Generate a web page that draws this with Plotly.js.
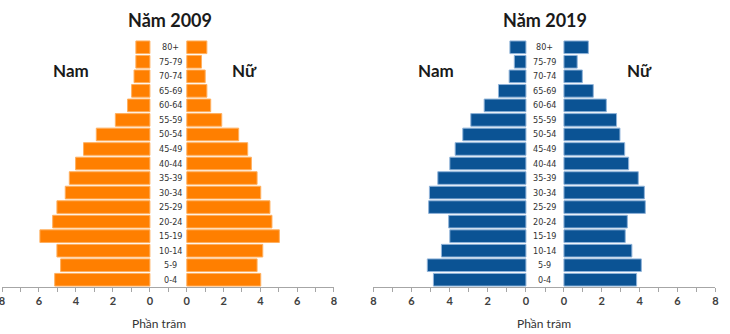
<!DOCTYPE html>
<html>
<head>
<meta charset="utf-8">
<script src="https://cdn.plot.ly/plotly-3.0.1.min.js"></script>
<style>html,body{margin:0;padding:0;background:#fff}#chart{width:730px;height:334px}</style>
</head>
<body>
<div id="chart"></div>
<script>
const ageGroups = ["0-4","5-9","10-14","15-19","20-24","25-29","30-34","35-39","40-44","45-49","50-54","55-59","60-64","65-69","70-74","75-79","80+"];
const male2009   = [5.15,4.83,5.03,5.95,5.26,5.03,4.58,4.36,4.02,3.59,2.90,1.87,1.21,0.99,0.86,0.76,0.76];
const female2009 = [4.02,3.82,4.13,5.03,4.63,4.52,4.02,3.82,3.51,3.31,2.82,1.90,1.30,1.09,1.00,0.80,1.09];
const male2019   = [4.85,5.17,4.43,3.99,4.05,5.10,5.06,4.62,3.99,3.71,3.31,2.89,2.19,1.44,0.88,0.61,0.84];
const female2019 = [3.84,4.09,3.59,3.24,3.35,4.30,4.25,3.93,3.42,3.21,2.96,2.78,2.24,1.55,0.97,0.70,1.29];
const panelTitles = ["Năm 2009","Năm 2019"];
const sexLabels = ["Nam","Nữ"];
const axisLabel = "Phần trăm";

const orange = "#FF7F00", blue = "#0B5394";
function bar(x, color, lineColor, xa, ya){
  return {type:"bar", orientation:"h", x:x, y:ageGroups, xaxis:xa, yaxis:ya,
    marker:{color:color, line:{color:lineColor, width:1}}, hoverinfo:"x+y", showlegend:false};
}
const data = [
  bar(male2009, orange, "#FFB060", "x", "y"),
  bar(female2009, orange, "#FFB060", "x2", "y"),
  bar(male2019, blue, "#8FB3D9", "x3", "y2"),
  bar(female2019, blue, "#8FB3D9", "x4", "y2")
];
const axColor = "#a6a6a6";
function xax(dom, range, anchor){
  return {domain:dom, range:range, anchor:anchor, showgrid:false, zeroline:false,
    showline:true, linecolor:axColor, linewidth:1, ticks:"outside", ticklen:4, tickcolor:axColor,
    tickvals:[0,2,4,6,8], ticktext:["0","2","4","6","8"], ticklabeloverflow:"allow",
    minor:{ticks:"outside", dtick:1, tick0:0, ticklen:4, tickcolor:axColor, showgrid:false},
    tickfont:{family:"Lato, 'Open Sans', sans-serif", size:11, color:"#404040", weight:"bold"},
    fixedrange:true};
}
function yax(){
  return {domain:[0.1407,0.8802], type:"category", categoryorder:"array", categoryarray:ageGroups,
    range:[-0.5,16.5], showticklabels:false, showgrid:false, zeroline:false, showline:false, ticks:"", fixedrange:true};
}
const layout = {
  width:730, height:334, margin:{l:0,r:0,t:0,b:0}, paper_bgcolor:"#fff", plot_bgcolor:"rgba(0,0,0,0)",
  bargap:0.13, showlegend:false,
  xaxis: xax([0.00274,0.2307],[8,-1],"y"),
  xaxis2: xax([0.2307,0.4575],[-1,8],"y"),
  xaxis3: xax([0.5114,0.7466],[8,-1],"y2"),
  xaxis4: xax([0.7466,0.9799],[-1,8],"y2"),
  yaxis: yax(),
  yaxis2: yax(),
  annotations: []
};
const titleFont = {family:"Lato, 'Open Sans', sans-serif", size:18, color:"#1a1a1a", weight:"bold"};
const sexFont = {family:"Lato, 'Open Sans', sans-serif", size:17, color:"#1a1a1a", weight:"bold"};
const ageFont = {family:"'Liberation Sans Narrow', 'Arial Narrow', 'DejaVu Sans Condensed', sans-serif", size:9, color:"#333"};
const centers = [170/730, 544.5/730];
const sexX = [[70.5/730, 244/730],[435.5/730, 639/730]];
const pctX = [158.5/730, 544/730];
const yrefs = ["y","y2"];
for (let p=0;p<2;p++){
  layout.annotations.push({text:panelTitles[p], xref:"paper", yref:"paper", x:centers[p], y:1-20/334,
    xanchor:"center", yanchor:"middle", showarrow:false, font:titleFont});
  for (let s=0;s<2;s++){
    layout.annotations.push({text:sexLabels[s], xref:"paper", yref:"paper", x:sexX[p][s], y:1-70/334,
      xanchor:"center", yanchor:"middle", showarrow:false, font:sexFont});
  }
  layout.annotations.push({text:axisLabel, xref:"paper", yref:"paper", x:pctX[p], y:1-323/334,
    xanchor:"center", yanchor:"middle", showarrow:false,
    font:{family:"Lato, 'Open Sans', sans-serif", size:12, color:"#333"}});
  ageGroups.forEach(function(a){
    layout.annotations.push({text:a, xref:"paper", yref:yrefs[p], x:centers[p]+(p===0?0.5:0)/730, y:a,
      xanchor:"center", yanchor:"middle", showarrow:false, font:ageFont});
  });
}
Plotly.newPlot("chart", data, layout, {displayModeBar:false, staticPlot:true});
</script>
</body>
</html>
